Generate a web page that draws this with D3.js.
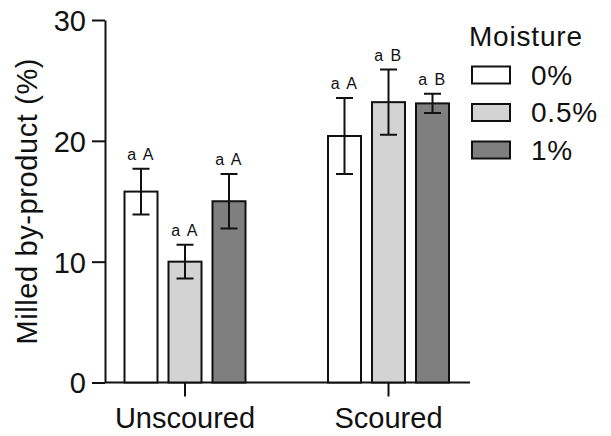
<!DOCTYPE html>
<html>
<head>
<meta charset="utf-8">
<script src="https://cdn.jsdelivr.net/npm/d3@7"></script>
<style>
  html, body { margin: 0; padding: 0; background: #fff; }
  svg { display: block; font-family: "Liberation Sans", Arial, sans-serif; }
</style>
</head>
<body>
<svg id="chart" width="611" height="436"></svg>
<script>
// Milled by-product by treatment and moisture level
const groups = ["Unscoured", "Scoured"];
const moistureLevels = ["0%", "0.5%", "1%"];
const means = {
  "Unscoured": [15.8, 10.0, 15.0],
  "Scoured":   [20.4, 23.2, 23.1]
};
const errors = {
  "Unscoured": [1.9, 1.4, 2.25],
  "Scoured":   [3.15, 2.7, 0.8]
};
const letters = {
  "Unscoured": ["a A", "a A", "a A"],
  "Scoured":   ["a A", "a B", "a B"]
};
const yTicks = [0, 10, 20, 30];
const fills = ["#ffffff", "#d3d3d3", "#7f7f7f"];

const svg = d3.select("#chart");
const ink = "#111";

const y = d3.scaleLinear().domain([0, 30]).range([382.5, 20]);
const x = d3.scaleBand().domain(groups).range([83.25, 490.25]).padding(0);
const xSub = d3.scaleBand().domain(moistureLevels).range([0, 121]).paddingInner(0.25).paddingOuter(0);

// y axis
const yAxis = d3.axisLeft(y).tickValues(yTicks).tickSize(13).tickPadding(6).tickSizeOuter(0);
const gy = svg.append("g").attr("transform", "translate(105,0)").call(yAxis);
gy.select(".domain").attr("stroke", ink).attr("stroke-width", 2);
gy.selectAll(".tick line").attr("stroke", ink).attr("stroke-width", 2);
gy.selectAll(".tick text").attr("fill", ink).attr("font-size", 29).attr("font-family", "Liberation Sans, Arial, sans-serif").attr("dy", "0.36em");

// x axis
const xAxis = d3.axisBottom(x).tickSize(14).tickPadding(11).tickSizeOuter(0);
const gx = svg.append("g").attr("transform", "translate(0,382.5)").call(xAxis);
gx.select(".domain").attr("d", "M105,0H470").attr("stroke", ink).attr("stroke-width", 2);
gx.selectAll(".tick line").attr("stroke", ink).attr("stroke-width", 2);
gx.selectAll(".tick text").attr("fill", ink).attr("font-size", 29).attr("font-family", "Liberation Sans, Arial, sans-serif").attr("dy", "0.71em");

// y axis title
svg.append("text")
  .attr("transform", `translate(37,${(y(0) + y(30)) / 2}) rotate(-90)`)
  .attr("text-anchor", "middle")
  .attr("font-size", 29)
  .attr("letter-spacing", 0.6)
  .attr("fill", ink)
  .text("Milled by-product (%)");

// bars, error bars and letter labels
const rows = groups.flatMap(g => moistureLevels.map((m, i) => ({
  group: g, level: m, i, value: means[g][i], err: errors[g][i], label: letters[g][i]
})));

const cell = svg.append("g").selectAll("g").data(rows).join("g")
  .attr("transform", d => `translate(${x(d.group) + x.bandwidth() / 2 - 60.5 + xSub(d.level)},0)`);

cell.append("rect")
  .attr("x", 0)
  .attr("width", xSub.bandwidth())
  .attr("y", d => y(d.value))
  .attr("height", d => y(0) - y(d.value))
  .attr("fill", d => fills[d.i])
  .attr("stroke", ink)
  .attr("stroke-width", 2);

const bw = xSub.bandwidth();
const cap = 8.5;
cell.append("path")
  .attr("d", d => {
    const c = bw / 2, t = y(d.value + d.err), b = y(d.value - d.err);
    return `M${c},${t}V${b}M${c - cap},${t}H${c + cap}M${c - cap},${b}H${c + cap}`;
  })
  .attr("fill", "none")
  .attr("stroke", ink)
  .attr("stroke-width", 2);

cell.append("text")
  .attr("x", bw / 2)
  .attr("y", d => y(d.value + d.err) - 9)
  .attr("text-anchor", "middle")
  .attr("font-size", 16)
  .attr("letter-spacing", 1.5)
  .attr("fill", ink)
  .text(d => d.label);

// legend
const legend = svg.append("g");
legend.append("text")
  .attr("x", 469)
  .attr("y", 45.5)
  .attr("font-size", 28)
  .attr("letter-spacing", 0.8)
  .attr("fill", ink)
  .text("Moisture");

const item = legend.selectAll("g.item").data(moistureLevels).join("g")
  .attr("class", "item")
  .attr("transform", (d, i) => `translate(0,${66.5 + i * 37.5})`);
item.append("rect")
  .attr("x", 472).attr("y", 0).attr("width", 38).attr("height", 17)
  .attr("fill", (d, i) => fills[i])
  .attr("stroke", ink).attr("stroke-width", 2);
item.append("text")
  .attr("x", 531)
  .attr("y", 18)
  .attr("font-size", 28)
  .attr("letter-spacing", 0.8)
  .attr("fill", ink)
  .text(d => d);
</script>
</body>
</html>
